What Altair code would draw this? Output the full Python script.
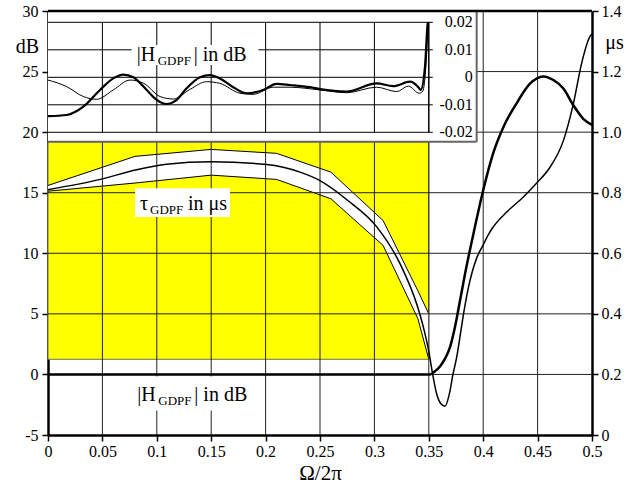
import altair as alt
import pandas as pd

FONT = "'Liberation Serif', 'Times New Roman', Times, 'DejaVu Serif', serif"

# ---------------- data ----------------
x_ticks = [0, 0.05, 0.1, 0.15, 0.2, 0.25, 0.3, 0.35, 0.4, 0.45, 0.5]
db_ticks = [-5, 0, 5, 10, 15, 20, 25, 30]
us_ticks = [0, 0.2, 0.4, 0.6, 0.8, 1.0, 1.2, 1.4]
inset_ticks = [-0.02, -0.01, 0, 0.01, 0.02]
inset_tick_labels = ["-0.02", "-0.01", "0", "0.01", "0.02"]

grid_x = [0.05, 0.1, 0.15, 0.2, 0.25, 0.3, 0.35, 0.4, 0.45]
grid_db = [0, 5, 10, 15, 20, 25]
inset_grid_x = [0.05, 0.1, 0.15, 0.2, 0.25, 0.3]
inset_f_range = [0, 0.35]
inset_box_f = [0, 0.394]
inset_box_db = [19.2, 30]

# tolerance scheme of the group delay (µs)
yellow_f = [0, 0.35]
yellow_us = [0.25, 0.968]
tol_f = [0, 0.08, 0.15, 0.21, 0.26, 0.308, 0.34, 0.35]
tol_upper = [0.824, 0.920, 0.943, 0.930, 0.868, 0.708, 0.476, 0.400]
tol_lower = [0.805, 0.832, 0.858, 0.844, 0.780, 0.626, 0.384, 0.250]

# group delay tau_GDPF (µs)
tau_f = [0, 0.048, 0.0815, 0.109, 0.15, 0.201, 0.2316, 0.25, 0.275, 0.302,
         0.3235, 0.34, 0.345, 0.35, 0.3536, 0.3572, 0.3609, 0.3649, 0.3689,
         0.3722, 0.3756, 0.379, 0.3825, 0.386, 0.39, 0.394, 0.4, 0.4045, 0.409,
         0.4216, 0.4369, 0.4492, 0.4614, 0.4737, 0.483, 0.4905, 0.4982, 0.5]
tau_us = [0.810, 0.844, 0.876, 0.894, 0.902, 0.893, 0.868, 0.840, 0.776, 0.688,
          0.566, 0.420, 0.356, 0.276, 0.200, 0.136, 0.104, 0.095, 0.136,
          0.200, 0.256, 0.332, 0.412, 0.480, 0.540, 0.584, 0.628, 0.660, 0.686,
          0.736, 0.786, 0.832, 0.884, 0.972, 1.096, 1.228, 1.316, 1.324]

# magnitude |H_GDPF| (dB)
h_f = [0, 0.351, 0.3557, 0.3603, 0.3649, 0.3695, 0.374, 0.3787, 0.3833, 0.391,
       0.4, 0.409, 0.4185, 0.4308, 0.443, 0.4553, 0.4645, 0.4737, 0.483, 0.492, 0.5]
h_db = [0, 0, 0.27, 0.66, 1.3, 2.26, 3.9, 6.1, 8.3, 11.6,
        15.2, 18.2, 20.4, 22.4, 24.0, 24.6, 24.3, 23.6, 22.2, 21.1, 20.6]

# inset: passband magnitude detail (dB)
ins_f_thick = [0, 0.0172, 0.0325, 0.0478, 0.06, 0.0692, 0.0784, 0.0907, 0.0999,
               0.109, 0.118, 0.1274, 0.1397, 0.1489, 0.158, 0.1703, 0.1825,
               0.1978, 0.21, 0.2224, 0.2408, 0.25, 0.2745, 0.302, 0.3174,
               0.3327, 0.3404, 0.3425, 0.3465, 0.349, 0.3492]
ins_thick = [-0.0141, -0.0137, -0.0107, -0.0046, -0.0004, 0.0010, 0.0, -0.0046,
             -0.0082, -0.0097, -0.0083, -0.004, 0.0, 0.0008, -0.0004, -0.0036,
             -0.0058, -0.0046, -0.0024, -0.0028, -0.0036, -0.0043, -0.0052,
             -0.0022, -0.0032, -0.0016, -0.0036, -0.0046, 0.0039, 0.0196, 0.02]
ins_f_thin = [0, 0.0172, 0.0325, 0.0447, 0.06, 0.0754, 0.088, 0.103, 0.1152,
              0.1305, 0.1458, 0.158, 0.1765, 0.1886, 0.2071, 0.2224, 0.25,
              0.2745, 0.302, 0.3205, 0.3312, 0.3413, 0.3445, 0.3475, 0.3495]
ins_thin = [-0.001, -0.0034, -0.007, -0.008, -0.0046, -0.001, -0.0022, -0.007,
            -0.0079, -0.0044, -0.0016, -0.0022, -0.0058, -0.0062, -0.0036,
            -0.0036, -0.0046, -0.0056, -0.0036, -0.0052, -0.0032, -0.0058,
            -0.005, 0.005, 0.02]

# annotations: anchor (left edge, baseline) and white backing boxes
lab_inset = {"x": [0.0815], "y": [0.00575]}
lab_inset_box = {"x0": [0.0769], "x1": [0.1933], "y0": [0.00447], "y1": [0.01175]}
lab_tau = {"x": [0.0846], "y": [13.57]}
lab_tau_box = {"x0": [0.08], "x1": [0.1673], "y0": [12.99], "y1": [15.37]}
lab_bot = {"x": [0.0821], "y": [-2.21]}
lab_bot_box = {"x0": [0.0772], "x1": [0.193], "y0": [-2.98], "y1": [-0.17]}

H_PIECES = [("|H", 20, 0, 0), ("GDPF", 13, 21, 3.5), ("| in dB", 20, 57, 0)]
T_PIECES = [("τ", 20, 0, 0), ("GDPF", 13, 10, 3.5), ("in μs", 20, 48, 0)]

# ---------------- scales / axes ----------------
xs = alt.Scale(domain=[0, 0.5], nice=False, zero=False)
x_axis = alt.Axis(values=x_ticks, format="~g", tickSize=6, tickWidth=1.5,
                  labelPadding=2, domainWidth=2.5, labelFlush=False,
                  labelOverlap=False, title="Ω/2π", titleFontSize=21,
                  titleY=44, titleBaseline="alphabetic")

neg_expr = "datum.value < 0 ? '-' + format(-datum.value, '~g') : format(datum.value, '~g')"

dbs = alt.Scale(domain=[-5, 30], nice=False, zero=False)
db_axis = alt.Axis(orient="left", values=db_ticks, labelExpr=neg_expr,
                   tickSize=6, tickWidth=1.5, labelPadding=4, domainWidth=2.5,
                   labelOverlap=False, title="dB", titleAngle=0, titleX=-21,
                   titleY=41, titleAlign="center", titleBaseline="alphabetic",
                   titleFontSize=20)

uss = alt.Scale(domain=[0, 1.4], nice=False, zero=False)
us_axis = alt.Axis(orient="right", values=us_ticks,
                   labelExpr="datum.value == 0 ? '0' : format(datum.value, '.1f')",
                   tickSize=6, tickWidth=1.5, labelPadding=3, domainWidth=2.5,
                   labelOverlap=False, title="μs", titleAngle=0, titleX=22,
                   titleY=37, titleAlign="center", titleBaseline="alphabetic",
                   titleFontSize=20)

ins_scale = alt.Scale(domain=[-0.02, 0.02], range=[121.3, 11.3], nice=False, zero=False)


def X(f):
    return alt.X(f, type="quantitative", scale=xs, axis=x_axis)


def Ydb(f):
    return alt.Y(f, type="quantitative", scale=dbs, axis=db_axis)


def Yband(f):
    return alt.Y(f, type="quantitative", scale=uss, axis=None)


def Yus(f):
    return alt.Y(f, type="quantitative", scale=uss, axis=us_axis)


def Yins(f):
    return alt.Y(f, type="quantitative", scale=ins_scale, axis=None)


def label_layers(anchor, pieces, yfun):
    df = pd.DataFrame(anchor)
    out = []
    for txt, size, dx, dy in pieces:
        out.append(alt.Chart(df).mark_text(text=txt, fontSize=size, dx=dx, dy=dy,
                                           align="left", baseline="alphabetic",
                                           font=FONT, color="black")
                   .encode(x=X("x"), y=yfun("y")))
    return out


def box(d, yfun):
    return alt.Chart(pd.DataFrame(d)).mark_rect(fill="white", strokeWidth=0).encode(
        x=X("x0"), x2=alt.X2("x1"), y=yfun("y0"), y2=alt.Y2("y1"))


# ---------------- group 1: tolerance scheme (µs, no axis) ----------------
yellow = alt.Chart(pd.DataFrame({"x0": [yellow_f[0]], "x1": [yellow_f[1]],
                                 "y0": [yellow_us[0]], "y1": [yellow_us[1]]})).mark_rect(
    fill="#ffff00", stroke="#707050", strokeWidth=1).encode(
    x=X("x0"), x2=alt.X2("x1"), y=Yband("y0"), y2=alt.Y2("y1"))

tol_df = pd.DataFrame({"f": tol_f, "up": tol_upper, "lo": tol_lower})
band = alt.Chart(tol_df).mark_area(fill="white", opacity=1).encode(
    x=X("f"), y=Yband("up"), y2=alt.Y2("lo"))
tol_up_line = alt.Chart(tol_df).mark_line(color="black", strokeWidth=1).encode(
    x=X("f"), y=Yband("up"))
tol_lo_line = alt.Chart(tol_df).mark_line(color="black", strokeWidth=1).encode(
    x=X("f"), y=Yband("lo"))
band_group = alt.layer(yellow, band, tol_up_line, tol_lo_line)

# ---------------- group 2: main dB layer ----------------
hgrid = alt.Chart(pd.DataFrame({"v": grid_db})).mark_rule(color="#222", strokeWidth=1).encode(
    y=Ydb("v"))
vgrid = alt.Chart(pd.DataFrame({"v": grid_x})).mark_rule(color="#222", strokeWidth=1).encode(
    x=X("v"))
inset_bg = alt.Chart(pd.DataFrame({"x0": [inset_box_f[0]], "x1": [inset_box_f[1]],
                                   "y0": [inset_box_db[0]], "y1": [inset_box_db[1]]})).mark_rect(
    fill="white", strokeWidth=0).encode(x=X("x0"), x2=alt.X2("x1"), y=Ydb("y0"), y2=alt.Y2("y1"))
inset_right = alt.Chart(pd.DataFrame({"x": [inset_box_f[1]], "y0": [inset_box_db[0]],
                                      "y1": [inset_box_db[1]]})).mark_rule(
    color="#666", strokeWidth=2).encode(x=X("x"), y=Ydb("y0"), y2=alt.Y2("y1"))
inset_bottom = alt.Chart(pd.DataFrame({"x0": [inset_box_f[0]], "x1": [inset_box_f[1]],
                                       "y": [inset_box_db[0]]})).mark_rule(
    color="#666", strokeWidth=2).encode(x=X("x0"), x2=alt.X2("x1"), y=Ydb("y"))
top_border = alt.Chart(pd.DataFrame({"v": [db_ticks[-1]]})).mark_rule(
    color="black", strokeWidth=2.5).encode(y=Ydb("v"))
h_curve = alt.Chart(pd.DataFrame({"f": h_f, "db": h_db})).mark_line(
    color="black", strokeWidth=2.5, interpolate="monotone").encode(x=X("f"), y=Ydb("db"))

main_group = alt.layer(
    hgrid, vgrid, inset_bg, inset_right, inset_bottom, top_border,
    box(lab_tau_box, Ydb), box(lab_bot_box, Ydb),
    *label_layers(lab_tau, T_PIECES, Ydb),
    *label_layers(lab_bot, H_PIECES, Ydb),
    h_curve,
)

# ---------------- group 3: tau curve (µs, right axis) ----------------
tau_group = alt.Chart(pd.DataFrame({"f": tau_f, "us": tau_us})).mark_line(
    color="black", strokeWidth=1.5, interpolate="monotone").encode(x=X("f"), y=Yus("us"))

# ---------------- group 4: inset ----------------
ins_h = alt.Chart(pd.DataFrame({"v": inset_ticks, "x0": inset_f_range[0],
                                "x1": inset_f_range[1]})).mark_rule(
    color="black", strokeWidth=1).encode(x=X("x0"), x2=alt.X2("x1"), y=Yins("v"))
ins_v = alt.Chart(pd.DataFrame({"v": inset_grid_x, "y0": inset_ticks[0],
                                "y1": inset_ticks[-1]})).mark_rule(
    color="black", strokeWidth=1).encode(x=X("v"), y=Yins("y0"), y2=alt.Y2("y1"))
ins_thin_line = alt.Chart(pd.DataFrame({"f": ins_f_thin, "v": ins_thin})).mark_line(
    color="black", strokeWidth=1, interpolate="monotone").encode(x=X("f"), y=Yins("v"))
ins_thick_line = alt.Chart(pd.DataFrame({"f": ins_f_thick, "v": ins_thick})).mark_line(
    color="black", strokeWidth=2.2, interpolate="monotone").encode(x=X("f"), y=Yins("v"))

# inset's own right axis (domain line, ticks, labels) at f = 0.35
ins_axis_df = pd.DataFrame({"x": inset_f_range[1], "v": inset_ticks, "lab": inset_tick_labels})
ins_domain = alt.Chart(pd.DataFrame({"x": [inset_f_range[1]], "y0": [inset_ticks[0]],
                                     "y1": [inset_ticks[-1]]})).mark_rule(
    color="black", strokeWidth=1.5).encode(x=X("x"), y=Yins("y0"), y2=alt.Y2("y1"))
ins_tickmarks = alt.Chart(ins_axis_df).mark_rule(
    color="black", strokeWidth=1, x2Offset=4).encode(x=X("x"), x2=alt.X2("x"), y=Yins("v"))
ins_ticklabels = alt.Chart(ins_axis_df).mark_text(
    align="right", baseline="middle", dx=44, fontSize=16, font=FONT, color="black").encode(
    x=X("x"), y=Yins("v"), text=alt.Text("lab:N"))

inset_group = alt.layer(
    ins_h, ins_v, ins_thin_line, ins_thick_line,
    box(lab_inset_box, Yins),
    *label_layers(lab_inset, H_PIECES, Yins),
    ins_domain, ins_tickmarks, ins_ticklabels,
)

chart = alt.layer(band_group, main_group, tau_group, inset_group).resolve_scale(
    y="independent"
).properties(
    width=544, height=424,
    padding={"left": 48, "top": 11, "right": 36, "bottom": 52},
    autosize=alt.AutoSizeParams(type="none"),
    background="white",
).configure_view(
    strokeWidth=0
).configure_axis(
    labelFont=FONT, labelFontSize=16, labelColor="black",
    titleFont=FONT, titleColor="black", titleFontWeight="normal",
    domainColor="black", tickColor="black", grid=False, zindex=1,
)

chart.save("out.html", embed_options={"renderer": "svg", "actions": False})
